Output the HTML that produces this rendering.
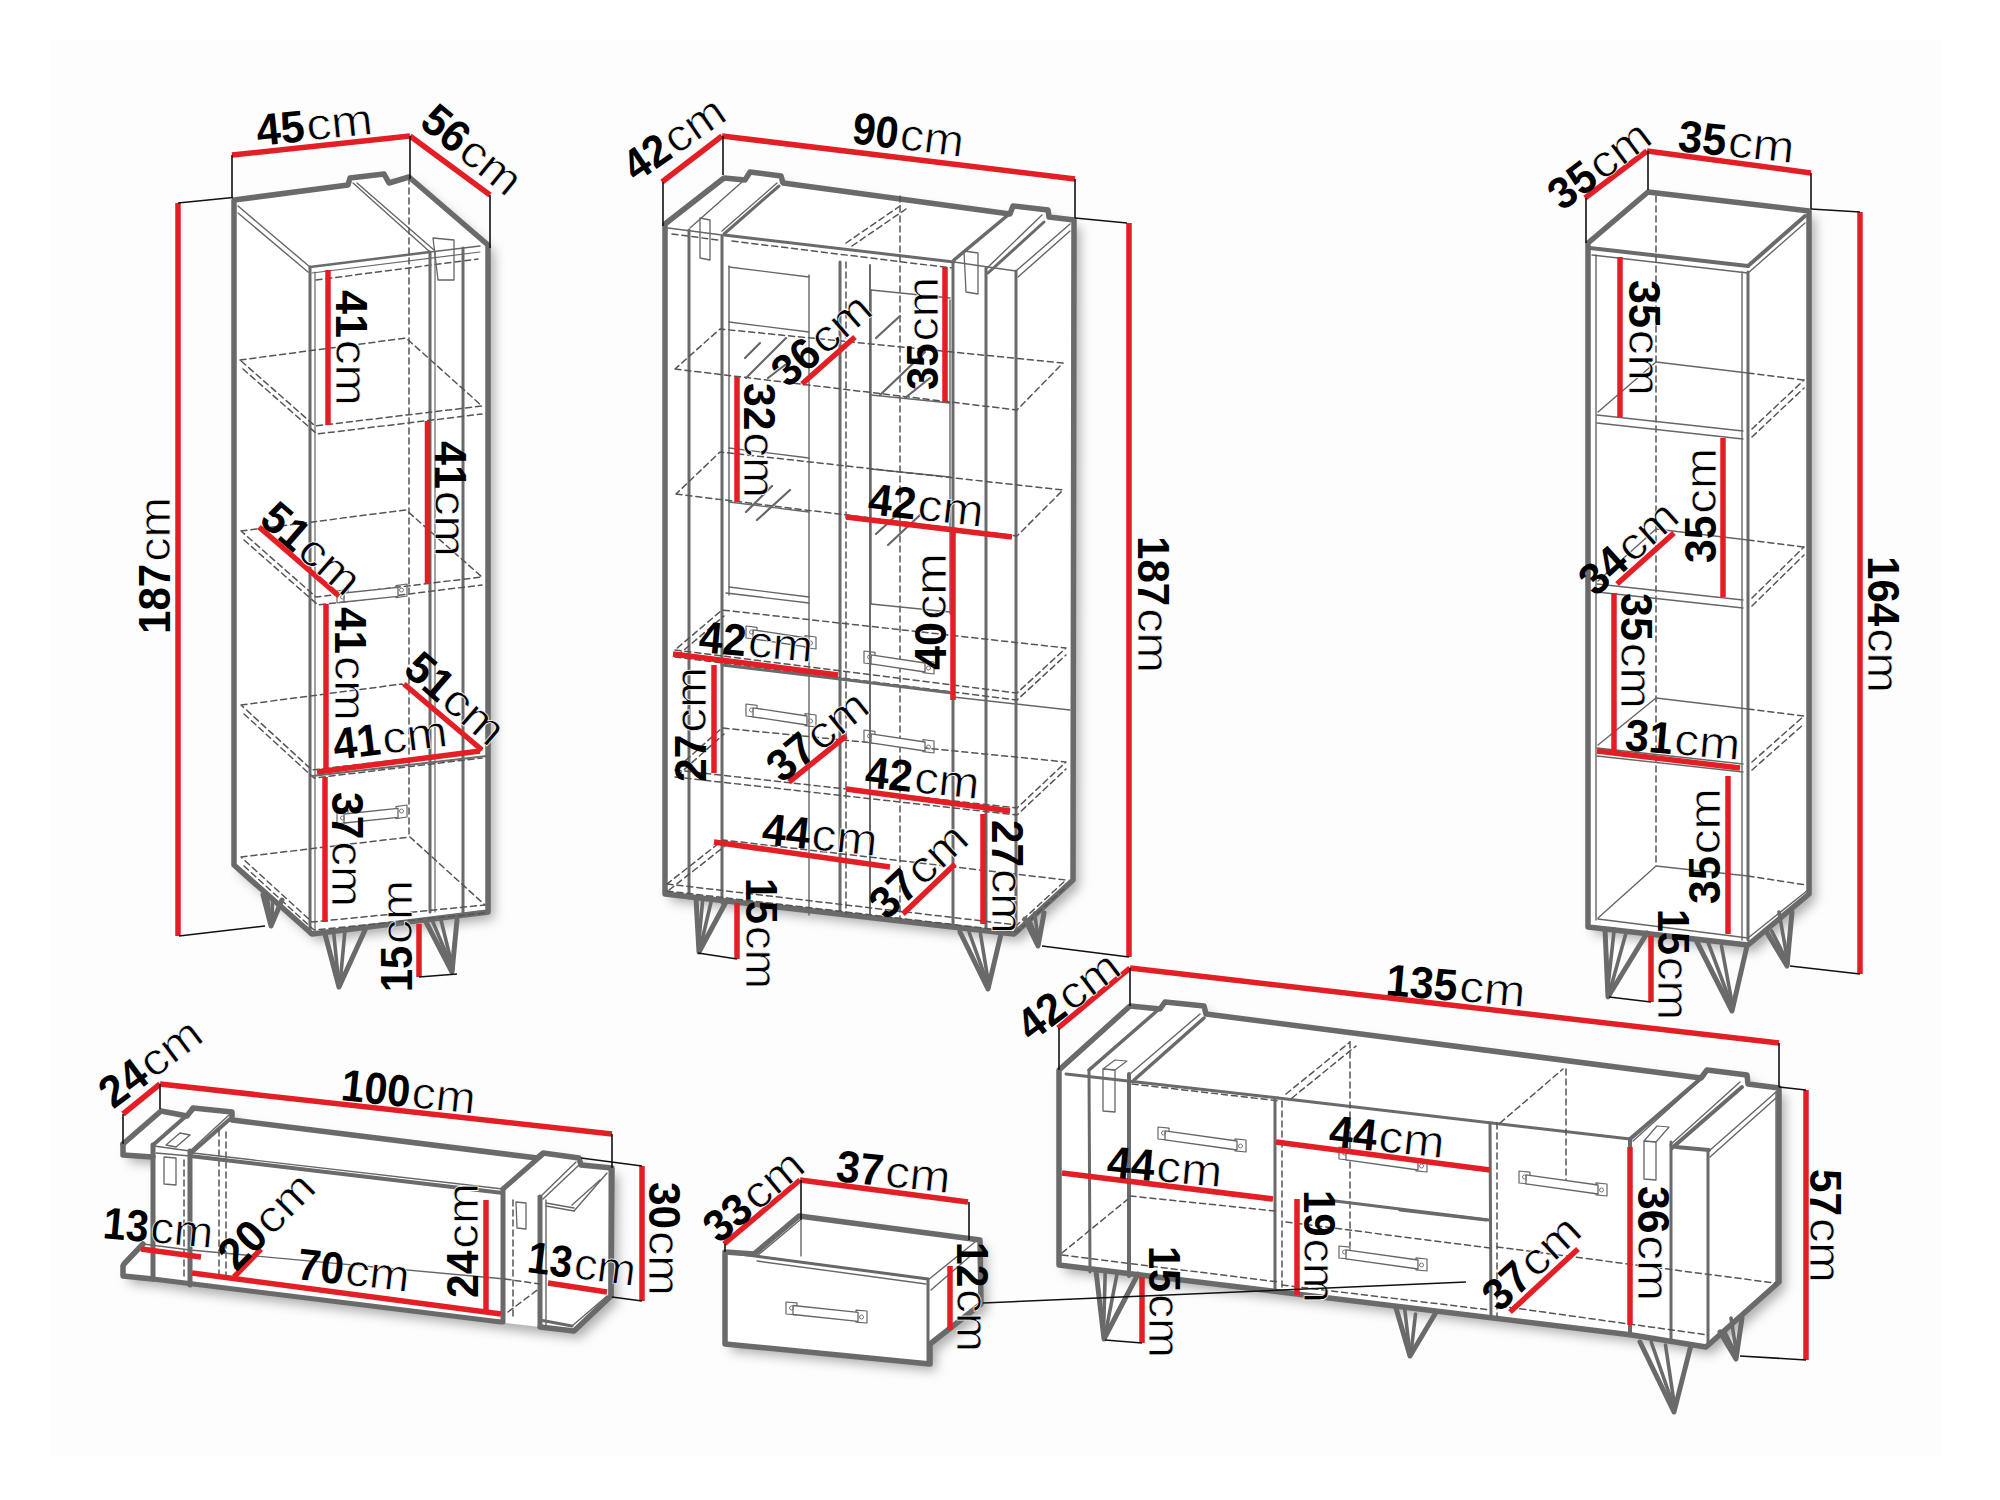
<!DOCTYPE html>
<html><head><meta charset="utf-8"><style>
html,body{margin:0;padding:0;background:#fff;}
svg{display:block;}
text{font-family:"Liberation Sans",sans-serif;fill:#000;}
</style></head><body>
<svg width="2000" height="1500" viewBox="0 0 2000 1500">
<defs><filter id="sh" x="-20%" y="-20%" width="140%" height="140%"><feGaussianBlur stdDeviation="6"/></filter></defs>
<rect width="2000" height="1500" fill="#fff"/>
<rect x="50" y="40" width="1891" height="1416" fill="#fdfdfd"/>
<polygon points="234,200 348,185 350,178 384,174 389,183 409,177 488,245 488,912 312,934 234,865" fill="#000" fill-opacity="0.32" filter="url(#sh)" transform="translate(6,7)"/>
<polygon points="234,200 348,185 350,178 384,174 389,183 409,177 488,245 488,912 312,934 234,865" fill="#fff"/>
<polygon points="234,200 348,185 350,178 384,174 389,183 409,177 488,245 488,912 312,934 234,865" fill="none" stroke="#6a6a6a" stroke-width="5.5" stroke-linejoin="round" stroke-linecap="round"/>
<line x1="238" y1="206" x2="310" y2="267" stroke="#666" stroke-width="1.4" stroke-linecap="round"/>
<line x1="238" y1="213" x2="308" y2="272" stroke="#666" stroke-width="1.4" stroke-linecap="round"/>
<line x1="353" y1="183" x2="430" y2="252" stroke="#666" stroke-width="1.4" stroke-linecap="round"/>
<line x1="357" y1="183" x2="434" y2="250" stroke="#666" stroke-width="1.4" stroke-linecap="round"/>
<line x1="310" y1="267" x2="430" y2="252" stroke="#6a6a6a" stroke-width="2.5" stroke-linecap="round"/>
<line x1="430" y1="252" x2="480" y2="246" stroke="#666" stroke-width="1.4" stroke-linecap="round"/>
<line x1="312" y1="273" x2="480" y2="252" stroke="#666" stroke-width="1.2" stroke-linecap="round"/>
<polyline points="316,280 478,259" fill="none" stroke="#555" stroke-width="1.5" stroke-linejoin="round" stroke-linecap="round" stroke-dasharray="6,4"/>
<line x1="310" y1="267" x2="310" y2="934" stroke="#6a6a6a" stroke-width="3" stroke-linecap="round"/>
<line x1="315" y1="272" x2="315" y2="930" stroke="#666" stroke-width="1.2" stroke-linecap="round"/>
<line x1="430" y1="252" x2="430" y2="912" stroke="#6a6a6a" stroke-width="3" stroke-linecap="round"/>
<line x1="435" y1="252" x2="435" y2="912" stroke="#666" stroke-width="1.2" stroke-linecap="round"/>
<line x1="463" y1="248" x2="463" y2="912" stroke="#6a6a6a" stroke-width="3" stroke-linecap="round"/>
<polyline points="409,178 409,837" fill="none" stroke="#555" stroke-width="1.5" stroke-linejoin="round" stroke-linecap="round" stroke-dasharray="6,4"/>
<polyline points="240,360 406,338 482,406 315,426 240,360" fill="none" stroke="#555" stroke-width="1.5" stroke-linejoin="round" stroke-linecap="round" stroke-dasharray="6,4"/>
<polyline points="243,369 317,434 482,414" fill="none" stroke="#555" stroke-width="1.5" stroke-linejoin="round" stroke-linecap="round" stroke-dasharray="6,4"/>
<polyline points="241,531 406,510 482,577 316,597 241,531" fill="none" stroke="#555" stroke-width="1.5" stroke-linejoin="round" stroke-linecap="round" stroke-dasharray="6,4"/>
<polyline points="244,540 318,605 482,585" fill="none" stroke="#555" stroke-width="1.5" stroke-linejoin="round" stroke-linecap="round" stroke-dasharray="6,4"/>
<polyline points="241,705 402,684 482,750 312,770 241,705" fill="none" stroke="#555" stroke-width="1.5" stroke-linejoin="round" stroke-linecap="round" stroke-dasharray="6,4"/>
<polyline points="244,714 314,778 482,758" fill="none" stroke="#555" stroke-width="1.5" stroke-linejoin="round" stroke-linecap="round" stroke-dasharray="6,4"/>
<polyline points="241,857 410,837 485,905 312,922 241,857" fill="none" stroke="#555" stroke-width="1.5" stroke-linejoin="round" stroke-linecap="round" stroke-dasharray="6,4"/>
<polyline points="244,866 314,930 485,913" fill="none" stroke="#555" stroke-width="1.5" stroke-linejoin="round" stroke-linecap="round" stroke-dasharray="6,4"/>
<line x1="312" y1="776" x2="487" y2="756" stroke="#6a6a6a" stroke-width="2" stroke-linecap="round"/>
<polygon points="433,238 454,240 454,280 438,280" fill="none" stroke="#666" stroke-width="1.3" stroke-linejoin="round" stroke-linecap="round"/>
<polygon points="337,812.0 348,810.4 348,822.4 337,824.0" fill="none" stroke="#666" stroke-width="1.2" stroke-linejoin="round" stroke-linecap="round"/>
<polygon points="396,806.6 407,805.0 407,817.0 396,818.6" fill="none" stroke="#666" stroke-width="1.2" stroke-linejoin="round" stroke-linecap="round"/>
<polygon points="344,814.0 398,808.3 398,817.3 344,823.0" fill="#fff" stroke="#666" stroke-width="1.3" stroke-linejoin="round" stroke-linecap="round"/>
<circle cx="342.5" cy="818" r="2" fill="none" stroke="#777" stroke-width="1"/>
<circle cx="401.5" cy="811" r="2" fill="none" stroke="#777" stroke-width="1"/>
<polygon points="337,591.0 348,589.4 348,601.4 337,603.0" fill="none" stroke="#666" stroke-width="1.2" stroke-linejoin="round" stroke-linecap="round"/>
<polygon points="396,585.6 407,584.0 407,596.0 396,597.6" fill="none" stroke="#666" stroke-width="1.2" stroke-linejoin="round" stroke-linecap="round"/>
<polygon points="344,593.0 398,587.3 398,596.3 344,602.0" fill="#fff" stroke="#666" stroke-width="1.3" stroke-linejoin="round" stroke-linecap="round"/>
<circle cx="342.5" cy="597" r="2" fill="none" stroke="#777" stroke-width="1"/>
<circle cx="401.5" cy="590" r="2" fill="none" stroke="#777" stroke-width="1"/>
<line x1="267.18" y1="895" x2="270.5" y2="920" stroke="#6a6a6a" stroke-width="3.6" stroke-linecap="round"/>
<line x1="272.5" y1="900" x2="272" y2="923" stroke="#6a6a6a" stroke-width="3.6" stroke-linecap="round"/>
<polyline points="263,895 271,926 282,900" fill="none" stroke="#6a6a6a" stroke-width="5" stroke-linejoin="round" stroke-linecap="round"/>
<line x1="333.8" y1="934" x2="338.5" y2="981" stroke="#6a6a6a" stroke-width="3.6" stroke-linecap="round"/>
<line x1="345.0" y1="930" x2="340" y2="984" stroke="#6a6a6a" stroke-width="3.6" stroke-linecap="round"/>
<polyline points="325,934 339,987 365,930" fill="none" stroke="#6a6a6a" stroke-width="5" stroke-linejoin="round" stroke-linecap="round"/>
<line x1="432.04" y1="920" x2="451.5" y2="966" stroke="#6a6a6a" stroke-width="3.6" stroke-linecap="round"/>
<line x1="441.0" y1="920" x2="453" y2="969" stroke="#6a6a6a" stroke-width="3.6" stroke-linecap="round"/>
<polyline points="425,920 452,972 457,920" fill="none" stroke="#6a6a6a" stroke-width="5" stroke-linejoin="round" stroke-linecap="round"/>
<line x1="232" y1="155" x2="410" y2="136" stroke="#e31e25" stroke-width="5.5" stroke-linecap="butt"/>
<line x1="410" y1="136" x2="490" y2="195" stroke="#e31e25" stroke-width="5.5" stroke-linecap="butt"/>
<line x1="178" y1="203" x2="178" y2="936" stroke="#e31e25" stroke-width="5.5" stroke-linecap="butt"/>
<line x1="328" y1="270" x2="328" y2="425" stroke="#e31e25" stroke-width="5.5" stroke-linecap="butt"/>
<line x1="427.5" y1="421" x2="427.5" y2="584" stroke="#e31e25" stroke-width="5.5" stroke-linecap="butt"/>
<line x1="259" y1="527" x2="339" y2="596" stroke="#e31e25" stroke-width="5.5" stroke-linecap="butt"/>
<line x1="326" y1="604" x2="326" y2="770" stroke="#e31e25" stroke-width="5.5" stroke-linecap="butt"/>
<line x1="404" y1="684" x2="482" y2="750" stroke="#e31e25" stroke-width="5.5" stroke-linecap="butt"/>
<line x1="317" y1="772" x2="480" y2="751" stroke="#e31e25" stroke-width="5.5" stroke-linecap="butt"/>
<line x1="325" y1="777" x2="325" y2="922" stroke="#e31e25" stroke-width="5.5" stroke-linecap="butt"/>
<line x1="419" y1="924" x2="419" y2="977" stroke="#e31e25" stroke-width="5.5" stroke-linecap="butt"/>
<line x1="178" y1="203" x2="233" y2="197.5" stroke="#111" stroke-width="1.6" stroke-linecap="butt"/>
<line x1="232" y1="155" x2="232" y2="198" stroke="#111" stroke-width="1.6" stroke-linecap="butt"/>
<line x1="410" y1="136" x2="410" y2="179" stroke="#111" stroke-width="1.6" stroke-linecap="butt"/>
<line x1="490" y1="195" x2="490" y2="248" stroke="#111" stroke-width="1.6" stroke-linecap="butt"/>
<line x1="179" y1="936" x2="265" y2="926" stroke="#111" stroke-width="1.6" stroke-linecap="butt"/>
<line x1="419" y1="977" x2="457" y2="974" stroke="#111" stroke-width="1.6" stroke-linecap="butt"/>
<g transform="translate(258.0,146.0) rotate(-5.91)"><text x="0" y="0" font-size="44.7" font-weight="bold" textLength="48.1" lengthAdjust="spacingAndGlyphs">45</text><text x="50.0" y="0" font-size="44.7" textLength="66.6" lengthAdjust="spacingAndGlyphs" stroke="#fff" stroke-width="0.7">cm</text></g>
<g transform="translate(418.0,125.0) rotate(39.36)"><text x="0" y="0" font-size="44.7" font-weight="bold" textLength="47.5" lengthAdjust="spacingAndGlyphs">56</text><text x="49.4" y="0" font-size="44.7" textLength="65.7" lengthAdjust="spacingAndGlyphs" stroke="#fff" stroke-width="0.7">cm</text></g>
<g transform="translate(170.0,634.0) rotate(-90.00)"><text x="0" y="0" font-size="44.7" font-weight="bold" textLength="70.2" lengthAdjust="spacingAndGlyphs">187</text><text x="72.2" y="0" font-size="44.7" textLength="64.9" lengthAdjust="spacingAndGlyphs" stroke="#fff" stroke-width="0.7">cm</text></g>
<g transform="translate(336.0,290.0) rotate(90.00)"><text x="0" y="0" font-size="44.7" font-weight="bold" textLength="47.8" lengthAdjust="spacingAndGlyphs">41</text><text x="49.7" y="0" font-size="44.7" textLength="66.2" lengthAdjust="spacingAndGlyphs" stroke="#fff" stroke-width="0.7">cm</text></g>
<g transform="translate(435.0,441.0) rotate(90.00)"><text x="0" y="0" font-size="44.7" font-weight="bold" textLength="47.8" lengthAdjust="spacingAndGlyphs">41</text><text x="49.7" y="0" font-size="44.7" textLength="66.2" lengthAdjust="spacingAndGlyphs" stroke="#fff" stroke-width="0.7">cm</text></g>
<g transform="translate(335.0,607.0) rotate(90.00)"><text x="0" y="0" font-size="44.7" font-weight="bold" textLength="47.0" lengthAdjust="spacingAndGlyphs">41</text><text x="48.9" y="0" font-size="44.7" textLength="65.1" lengthAdjust="spacingAndGlyphs" stroke="#fff" stroke-width="0.7">cm</text></g>
<g transform="translate(332.0,792.0) rotate(90.00)"><text x="0" y="0" font-size="44.7" font-weight="bold" textLength="47.4" lengthAdjust="spacingAndGlyphs">37</text><text x="49.3" y="0" font-size="44.7" textLength="65.7" lengthAdjust="spacingAndGlyphs" stroke="#fff" stroke-width="0.7">cm</text></g>
<g transform="translate(412.0,992.0) rotate(-90.00)"><text x="0" y="0" font-size="44.7" font-weight="bold" textLength="46.2" lengthAdjust="spacingAndGlyphs">15</text><text x="48.1" y="0" font-size="44.7" textLength="64.0" lengthAdjust="spacingAndGlyphs" stroke="#fff" stroke-width="0.7">cm</text></g>
<g transform="translate(257.7,522.0) rotate(41.00)"><text x="0" y="0" font-size="44.7" font-weight="bold" textLength="47.8" lengthAdjust="spacingAndGlyphs">51</text><text x="49.7" y="0" font-size="44.7" textLength="66.2" lengthAdjust="spacingAndGlyphs" stroke="#fff" stroke-width="0.7">cm</text></g>
<g transform="translate(401.7,672.0) rotate(41.00)"><text x="0" y="0" font-size="44.7" font-weight="bold" textLength="47.8" lengthAdjust="spacingAndGlyphs">51</text><text x="49.7" y="0" font-size="44.7" textLength="66.2" lengthAdjust="spacingAndGlyphs" stroke="#fff" stroke-width="0.7">cm</text></g>
<g transform="translate(335.0,760.0) rotate(-7.00)"><text x="0" y="0" font-size="44.7" font-weight="bold" textLength="47.4" lengthAdjust="spacingAndGlyphs">41</text><text x="49.3" y="0" font-size="44.7" textLength="65.6" lengthAdjust="spacingAndGlyphs" stroke="#fff" stroke-width="0.7">cm</text></g>
<polygon points="665,224 724,178 745,180 750,172 781,176 783,183 1010,214 1013,206 1048,210 1049,217 1074,220 1073,880 1014,934 665,894" fill="#000" fill-opacity="0.32" filter="url(#sh)" transform="translate(6,7)"/>
<polygon points="665,224 724,178 745,180 750,172 781,176 783,183 1010,214 1013,206 1048,210 1049,217 1074,220 1073,880 1014,934 665,894" fill="#fff"/>
<polygon points="665,224 724,178 745,180 750,172 781,176 783,183 1010,214 1013,206 1048,210 1049,217 1074,220 1073,880 1014,934 665,894" fill="none" stroke="#6a6a6a" stroke-width="5.5" stroke-linejoin="round" stroke-linecap="round"/>
<line x1="690" y1="228" x2="742" y2="182" stroke="#666" stroke-width="1.4" stroke-linecap="round"/>
<line x1="722" y1="231" x2="777" y2="183" stroke="#666" stroke-width="1.4" stroke-linecap="round"/>
<line x1="724" y1="234" x2="779" y2="186" stroke="#6a6a6a" stroke-width="3" stroke-linecap="round"/>
<line x1="668" y1="228" x2="722" y2="235" stroke="#666" stroke-width="1.4" stroke-linecap="round"/>
<line x1="724" y1="235" x2="954" y2="262" stroke="#6a6a6a" stroke-width="3" stroke-linecap="round"/>
<line x1="954" y1="262" x2="988" y2="267" stroke="#666" stroke-width="1.4" stroke-linecap="round"/>
<line x1="988" y1="267" x2="1016" y2="271" stroke="#666" stroke-width="1.4" stroke-linecap="round"/>
<polyline points="732,241 952,268" fill="none" stroke="#555" stroke-width="1.5" stroke-linejoin="round" stroke-linecap="round" stroke-dasharray="6,4"/>
<polyline points="672,234 718,240" fill="none" stroke="#555" stroke-width="1.5" stroke-linejoin="round" stroke-linecap="round" stroke-dasharray="6,4"/>
<line x1="954" y1="260" x2="1008" y2="215" stroke="#6a6a6a" stroke-width="3.5" stroke-linecap="round"/>
<line x1="986" y1="269" x2="1042" y2="215" stroke="#666" stroke-width="1.4" stroke-linecap="round"/>
<line x1="988" y1="273" x2="1044" y2="222" stroke="#6a6a6a" stroke-width="3" stroke-linecap="round"/>
<line x1="1016" y1="271" x2="1070" y2="224" stroke="#666" stroke-width="1.4" stroke-linecap="round"/>
<line x1="1018" y1="277" x2="1070" y2="231" stroke="#666" stroke-width="1.4" stroke-linecap="round"/>
<line x1="689" y1="230" x2="689" y2="898" stroke="#6a6a6a" stroke-width="3" stroke-linecap="round"/>
<line x1="722" y1="236" x2="722" y2="903" stroke="#6a6a6a" stroke-width="3" stroke-linecap="round"/>
<line x1="840" y1="262" x2="840" y2="914" stroke="#6a6a6a" stroke-width="3" stroke-linecap="round"/>
<polyline points="846,262 846,914" fill="none" stroke="#555" stroke-width="1.5" stroke-linejoin="round" stroke-linecap="round" stroke-dasharray="6,4"/>
<line x1="870" y1="265" x2="870" y2="918" stroke="#6a6a6a" stroke-width="2" stroke-linecap="round"/>
<polyline points="900,196 900,920" fill="none" stroke="#555" stroke-width="1.5" stroke-linejoin="round" stroke-linecap="round" stroke-dasharray="6,4"/>
<polyline points="846,243 900,206" fill="none" stroke="#555" stroke-width="1.5" stroke-linejoin="round" stroke-linecap="round" stroke-dasharray="6,4"/>
<polyline points="852,246 906,209" fill="none" stroke="#555" stroke-width="1.5" stroke-linejoin="round" stroke-linecap="round" stroke-dasharray="6,4"/>
<line x1="953" y1="261" x2="953" y2="926" stroke="#6a6a6a" stroke-width="3" stroke-linecap="round"/>
<line x1="986" y1="268" x2="986" y2="929" stroke="#6a6a6a" stroke-width="3" stroke-linecap="round"/>
<line x1="1016" y1="271" x2="1016" y2="932" stroke="#6a6a6a" stroke-width="3" stroke-linecap="round"/>
<line x1="729" y1="266" x2="729" y2="595" stroke="#666" stroke-width="1.4" stroke-linecap="round"/>
<line x1="809" y1="275" x2="809" y2="915" stroke="#666" stroke-width="1.4" stroke-linecap="round"/>
<line x1="729" y1="267" x2="809" y2="277" stroke="#666" stroke-width="1.4" stroke-linecap="round"/>
<line x1="729" y1="322" x2="809" y2="332" stroke="#666" stroke-width="1.4" stroke-linecap="round"/>
<line x1="729" y1="448" x2="809" y2="458" stroke="#666" stroke-width="1.4" stroke-linecap="round"/>
<line x1="729" y1="502" x2="809" y2="512" stroke="#666" stroke-width="1.4" stroke-linecap="round"/>
<line x1="729" y1="587" x2="809" y2="597" stroke="#666" stroke-width="1.4" stroke-linecap="round"/>
<line x1="726" y1="593" x2="809" y2="603" stroke="#666" stroke-width="1.4" stroke-linecap="round"/>
<line x1="871" y1="290" x2="871" y2="604" stroke="#666" stroke-width="1.4" stroke-linecap="round"/>
<line x1="950" y1="300" x2="950" y2="614" stroke="#666" stroke-width="1.4" stroke-linecap="round"/>
<line x1="871" y1="290" x2="950" y2="298" stroke="#666" stroke-width="1.4" stroke-linecap="round"/>
<line x1="871" y1="395" x2="950" y2="403" stroke="#666" stroke-width="1.4" stroke-linecap="round"/>
<line x1="871" y1="469" x2="950" y2="477" stroke="#666" stroke-width="1.4" stroke-linecap="round"/>
<line x1="871" y1="604" x2="950" y2="612" stroke="#666" stroke-width="1.4" stroke-linecap="round"/>
<polyline points="675,369 1017,410 1063,363 720,329 675,369" fill="none" stroke="#555" stroke-width="1.5" stroke-linejoin="round" stroke-linecap="round" stroke-dasharray="6,4"/>
<polyline points="676,494 1017,536 1063,490 720,452 676,494" fill="none" stroke="#555" stroke-width="1.5" stroke-linejoin="round" stroke-linecap="round" stroke-dasharray="6,4"/>
<polyline points="675,650 1017,693 1066,648 722,610 675,650" fill="none" stroke="#555" stroke-width="1.5" stroke-linejoin="round" stroke-linecap="round" stroke-dasharray="6,4"/>
<polyline points="675,657 1017,700 1066,655" fill="none" stroke="#555" stroke-width="1.5" stroke-linejoin="round" stroke-linecap="round" stroke-dasharray="6,4"/>
<polyline points="677,656 724,616" fill="none" stroke="#555" stroke-width="1.5" stroke-linejoin="round" stroke-linecap="round" stroke-dasharray="6,4"/>
<polyline points="675,770 1017,808 1066,762 722,728 675,770" fill="none" stroke="#555" stroke-width="1.5" stroke-linejoin="round" stroke-linecap="round" stroke-dasharray="6,4"/>
<polyline points="675,777 1017,815 1066,769" fill="none" stroke="#555" stroke-width="1.5" stroke-linejoin="round" stroke-linecap="round" stroke-dasharray="6,4"/>
<polyline points="677,776 724,734" fill="none" stroke="#555" stroke-width="1.5" stroke-linejoin="round" stroke-linecap="round" stroke-dasharray="6,4"/>
<polyline points="667,884 1017,925 1066,880 723,840 667,884" fill="none" stroke="#555" stroke-width="1.5" stroke-linejoin="round" stroke-linecap="round" stroke-dasharray="6,4"/>
<polyline points="667,891 1017,932 1066,887" fill="none" stroke="#555" stroke-width="1.5" stroke-linejoin="round" stroke-linecap="round" stroke-dasharray="6,4"/>
<polyline points="669,890 725,846" fill="none" stroke="#555" stroke-width="1.5" stroke-linejoin="round" stroke-linecap="round" stroke-dasharray="6,4"/>
<line x1="745" y1="358" x2="760" y2="343" stroke="#666" stroke-width="2.2" stroke-linecap="round"/>
<line x1="746" y1="378" x2="786" y2="338" stroke="#666" stroke-width="2.2" stroke-linecap="round"/>
<line x1="768" y1="378" x2="785" y2="365" stroke="#666" stroke-width="2.2" stroke-linecap="round"/>
<line x1="746" y1="512" x2="772" y2="486" stroke="#666" stroke-width="2.2" stroke-linecap="round"/>
<line x1="757" y1="520" x2="790" y2="490" stroke="#666" stroke-width="2.2" stroke-linecap="round"/>
<line x1="876" y1="338" x2="900" y2="316" stroke="#666" stroke-width="2.2" stroke-linecap="round"/>
<line x1="880" y1="395" x2="925" y2="352" stroke="#666" stroke-width="2.2" stroke-linecap="round"/>
<line x1="905" y1="398" x2="930" y2="378" stroke="#666" stroke-width="2.2" stroke-linecap="round"/>
<line x1="876" y1="534" x2="900" y2="512" stroke="#666" stroke-width="2.2" stroke-linecap="round"/>
<line x1="888" y1="545" x2="920" y2="515" stroke="#666" stroke-width="2.2" stroke-linecap="round"/>
<line x1="722" y1="665" x2="840" y2="679" stroke="#6a6a6a" stroke-width="3" stroke-linecap="round"/>
<line x1="840" y1="679" x2="952" y2="693" stroke="#6a6a6a" stroke-width="3" stroke-linecap="round"/>
<line x1="953" y1="697" x2="1070" y2="710" stroke="#666" stroke-width="1.4" stroke-linecap="round"/>
<polygon points="746,704.0 757,705.3 757,717.3 746,716.0" fill="none" stroke="#666" stroke-width="1.2" stroke-linejoin="round" stroke-linecap="round"/>
<polygon points="805,713.7 816,715.0 816,727.0 805,725.7" fill="none" stroke="#666" stroke-width="1.2" stroke-linejoin="round" stroke-linecap="round"/>
<polygon points="753,707.8 807,716.0 807,725.0 753,716.8" fill="#fff" stroke="#666" stroke-width="1.3" stroke-linejoin="round" stroke-linecap="round"/>
<circle cx="751.5" cy="710" r="2" fill="none" stroke="#777" stroke-width="1"/>
<circle cx="810.5" cy="721" r="2" fill="none" stroke="#777" stroke-width="1"/>
<polygon points="864,730.0 875,731.3 875,743.3 864,742.0" fill="none" stroke="#666" stroke-width="1.2" stroke-linejoin="round" stroke-linecap="round"/>
<polygon points="923,739.7 934,741.0 934,753.0 923,751.7" fill="none" stroke="#666" stroke-width="1.2" stroke-linejoin="round" stroke-linecap="round"/>
<polygon points="871,733.8 925,742.0 925,751.0 871,742.8" fill="#fff" stroke="#666" stroke-width="1.3" stroke-linejoin="round" stroke-linecap="round"/>
<circle cx="869.5" cy="736" r="2" fill="none" stroke="#777" stroke-width="1"/>
<circle cx="928.5" cy="747" r="2" fill="none" stroke="#777" stroke-width="1"/>
<polygon points="746,626.0 757,627.3 757,639.3 746,638.0" fill="none" stroke="#666" stroke-width="1.2" stroke-linejoin="round" stroke-linecap="round"/>
<polygon points="805,635.7 816,637.0 816,649.0 805,647.7" fill="none" stroke="#666" stroke-width="1.2" stroke-linejoin="round" stroke-linecap="round"/>
<polygon points="753,629.8 807,638.0 807,647.0 753,638.8" fill="#fff" stroke="#666" stroke-width="1.3" stroke-linejoin="round" stroke-linecap="round"/>
<circle cx="751.5" cy="632" r="2" fill="none" stroke="#777" stroke-width="1"/>
<circle cx="810.5" cy="643" r="2" fill="none" stroke="#777" stroke-width="1"/>
<polygon points="864,651.0 875,652.3 875,664.3 864,663.0" fill="none" stroke="#666" stroke-width="1.2" stroke-linejoin="round" stroke-linecap="round"/>
<polygon points="923,660.7 934,662.0 934,674.0 923,672.7" fill="none" stroke="#666" stroke-width="1.2" stroke-linejoin="round" stroke-linecap="round"/>
<polygon points="871,654.8 925,663.0 925,672.0 871,663.8" fill="#fff" stroke="#666" stroke-width="1.3" stroke-linejoin="round" stroke-linecap="round"/>
<circle cx="869.5" cy="657" r="2" fill="none" stroke="#777" stroke-width="1"/>
<circle cx="928.5" cy="668" r="2" fill="none" stroke="#777" stroke-width="1"/>
<polygon points="700,218 710,220 710,260 700,258" fill="none" stroke="#666" stroke-width="1.3" stroke-linejoin="round" stroke-linecap="round"/>
<polygon points="964,251 978,253 978,294 966,292" fill="none" stroke="#666" stroke-width="1.3" stroke-linejoin="round" stroke-linecap="round"/>
<line x1="702.82" y1="898" x2="698.5" y2="946" stroke="#6a6a6a" stroke-width="3.6" stroke-linecap="round"/>
<line x1="711.5" y1="900" x2="700" y2="949" stroke="#6a6a6a" stroke-width="3.6" stroke-linecap="round"/>
<polyline points="696,898 699,952 727,900" fill="none" stroke="#6a6a6a" stroke-width="5" stroke-linejoin="round" stroke-linecap="round"/>
<line x1="969.02" y1="932" x2="987.5" y2="983" stroke="#6a6a6a" stroke-width="3.6" stroke-linecap="round"/>
<line x1="980.5" y1="934" x2="989" y2="986" stroke="#6a6a6a" stroke-width="3.6" stroke-linecap="round"/>
<polyline points="960,932 988,989 1001,934" fill="none" stroke="#6a6a6a" stroke-width="5" stroke-linejoin="round" stroke-linecap="round"/>
<line x1="1029.18" y1="919" x2="1037.5" y2="940" stroke="#6a6a6a" stroke-width="3.6" stroke-linecap="round"/>
<line x1="1034.5" y1="913" x2="1039" y2="943" stroke="#6a6a6a" stroke-width="3.6" stroke-linecap="round"/>
<polyline points="1025,919 1038,946 1044,913" fill="none" stroke="#6a6a6a" stroke-width="5" stroke-linejoin="round" stroke-linecap="round"/>
<line x1="662" y1="182" x2="722" y2="136" stroke="#e31e25" stroke-width="5.5" stroke-linecap="butt"/>
<line x1="722" y1="136" x2="1075" y2="179" stroke="#e31e25" stroke-width="5.5" stroke-linecap="butt"/>
<line x1="1129" y1="223" x2="1129" y2="957" stroke="#e31e25" stroke-width="5.5" stroke-linecap="butt"/>
<line x1="737" y1="377" x2="737" y2="502" stroke="#e31e25" stroke-width="5.5" stroke-linecap="butt"/>
<line x1="802" y1="384" x2="855" y2="337" stroke="#e31e25" stroke-width="5.5" stroke-linecap="butt"/>
<line x1="945" y1="267" x2="945" y2="402" stroke="#e31e25" stroke-width="5.5" stroke-linecap="butt"/>
<line x1="846" y1="517" x2="1012" y2="537" stroke="#e31e25" stroke-width="5.5" stroke-linecap="butt"/>
<line x1="953" y1="531" x2="953" y2="700" stroke="#e31e25" stroke-width="5.5" stroke-linecap="butt"/>
<line x1="673" y1="654" x2="838" y2="675" stroke="#e31e25" stroke-width="5.5" stroke-linecap="butt"/>
<line x1="714" y1="665" x2="714" y2="773" stroke="#e31e25" stroke-width="5.5" stroke-linecap="butt"/>
<line x1="789" y1="782" x2="846" y2="736" stroke="#e31e25" stroke-width="5.5" stroke-linecap="butt"/>
<line x1="846" y1="789" x2="1010" y2="811" stroke="#e31e25" stroke-width="5.5" stroke-linecap="butt"/>
<line x1="714" y1="842" x2="890" y2="867" stroke="#e31e25" stroke-width="5.5" stroke-linecap="butt"/>
<line x1="737" y1="903" x2="737" y2="959" stroke="#e31e25" stroke-width="5.5" stroke-linecap="butt"/>
<line x1="903" y1="914" x2="955" y2="864" stroke="#e31e25" stroke-width="5.5" stroke-linecap="butt"/>
<line x1="983" y1="814" x2="983" y2="924" stroke="#e31e25" stroke-width="5.5" stroke-linecap="butt"/>
<line x1="663" y1="182" x2="663" y2="226" stroke="#111" stroke-width="1.6" stroke-linecap="butt"/>
<line x1="723" y1="136" x2="723" y2="175" stroke="#111" stroke-width="1.6" stroke-linecap="butt"/>
<line x1="1075" y1="179" x2="1075" y2="218" stroke="#111" stroke-width="1.6" stroke-linecap="butt"/>
<line x1="1075" y1="218" x2="1127" y2="223" stroke="#111" stroke-width="1.6" stroke-linecap="butt"/>
<line x1="698" y1="953" x2="737" y2="959" stroke="#111" stroke-width="1.6" stroke-linecap="butt"/>
<line x1="1042" y1="946" x2="1129" y2="957" stroke="#111" stroke-width="1.6" stroke-linecap="butt"/>
<g transform="translate(636.0,183.0) rotate(-34.53)"><text x="0" y="0" font-size="44.7" font-weight="bold" textLength="46.5" lengthAdjust="spacingAndGlyphs">42</text><text x="48.5" y="0" font-size="44.7" textLength="64.5" lengthAdjust="spacingAndGlyphs" stroke="#fff" stroke-width="0.7">cm</text></g>
<g transform="translate(851.0,143.0) rotate(7.19)"><text x="0" y="0" font-size="44.7" font-weight="bold" textLength="46.1" lengthAdjust="spacingAndGlyphs">90</text><text x="48.0" y="0" font-size="44.7" textLength="63.9" lengthAdjust="spacingAndGlyphs" stroke="#fff" stroke-width="0.7">cm</text></g>
<g transform="translate(1138.0,536.0) rotate(90.00)"><text x="0" y="0" font-size="44.7" font-weight="bold" textLength="70.2" lengthAdjust="spacingAndGlyphs">187</text><text x="72.2" y="0" font-size="44.7" textLength="64.9" lengthAdjust="spacingAndGlyphs" stroke="#fff" stroke-width="0.7">cm</text></g>
<g transform="translate(744.0,383.0) rotate(90.00)"><text x="0" y="0" font-size="44.7" font-weight="bold" textLength="47.4" lengthAdjust="spacingAndGlyphs">32</text><text x="49.3" y="0" font-size="44.7" textLength="65.7" lengthAdjust="spacingAndGlyphs" stroke="#fff" stroke-width="0.7">cm</text></g>
<g transform="translate(787.7,389.1) rotate(-41.00)"><text x="0" y="0" font-size="44.7" font-weight="bold" textLength="47.8" lengthAdjust="spacingAndGlyphs">36</text><text x="49.7" y="0" font-size="44.7" textLength="66.2" lengthAdjust="spacingAndGlyphs" stroke="#fff" stroke-width="0.7">cm</text></g>
<g transform="translate(938.0,390.0) rotate(-90.00)"><text x="0" y="0" font-size="44.7" font-weight="bold" textLength="46.6" lengthAdjust="spacingAndGlyphs">35</text><text x="48.5" y="0" font-size="44.7" textLength="64.5" lengthAdjust="spacingAndGlyphs" stroke="#fff" stroke-width="0.7">cm</text></g>
<g transform="translate(867.0,514.0) rotate(6.45)"><text x="0" y="0" font-size="44.7" font-weight="bold" textLength="47.7" lengthAdjust="spacingAndGlyphs">42</text><text x="49.6" y="0" font-size="44.7" textLength="66.1" lengthAdjust="spacingAndGlyphs" stroke="#fff" stroke-width="0.7">cm</text></g>
<g transform="translate(946.0,670.0) rotate(-90.00)"><text x="0" y="0" font-size="44.7" font-weight="bold" textLength="48.2" lengthAdjust="spacingAndGlyphs">40</text><text x="50.2" y="0" font-size="44.7" textLength="66.8" lengthAdjust="spacingAndGlyphs" stroke="#fff" stroke-width="0.7">cm</text></g>
<g transform="translate(698.0,652.0) rotate(5.01)"><text x="0" y="0" font-size="44.7" font-weight="bold" textLength="47.2" lengthAdjust="spacingAndGlyphs">42</text><text x="49.1" y="0" font-size="44.7" textLength="65.3" lengthAdjust="spacingAndGlyphs" stroke="#fff" stroke-width="0.7">cm</text></g>
<g transform="translate(706.0,782.0) rotate(-90.00)"><text x="0" y="0" font-size="44.7" font-weight="bold" textLength="47.4" lengthAdjust="spacingAndGlyphs">27</text><text x="49.3" y="0" font-size="44.7" textLength="65.7" lengthAdjust="spacingAndGlyphs" stroke="#fff" stroke-width="0.7">cm</text></g>
<g transform="translate(782.0,783.9) rotate(-39.00)"><text x="0" y="0" font-size="44.7" font-weight="bold" textLength="47.8" lengthAdjust="spacingAndGlyphs">37</text><text x="49.7" y="0" font-size="44.7" textLength="66.2" lengthAdjust="spacingAndGlyphs" stroke="#fff" stroke-width="0.7">cm</text></g>
<g transform="translate(864.0,787.0) rotate(6.01)"><text x="0" y="0" font-size="44.7" font-weight="bold" textLength="47.3" lengthAdjust="spacingAndGlyphs">42</text><text x="49.2" y="0" font-size="44.7" textLength="65.5" lengthAdjust="spacingAndGlyphs" stroke="#fff" stroke-width="0.7">cm</text></g>
<g transform="translate(761.0,844.0) rotate(5.96)"><text x="0" y="0" font-size="44.7" font-weight="bold" textLength="47.7" lengthAdjust="spacingAndGlyphs">44</text><text x="49.6" y="0" font-size="44.7" textLength="66.0" lengthAdjust="spacingAndGlyphs" stroke="#fff" stroke-width="0.7">cm</text></g>
<g transform="translate(746.0,878.0) rotate(90.00)"><text x="0" y="0" font-size="44.7" font-weight="bold" textLength="45.8" lengthAdjust="spacingAndGlyphs">15</text><text x="47.7" y="0" font-size="44.7" textLength="63.4" lengthAdjust="spacingAndGlyphs" stroke="#fff" stroke-width="0.7">cm</text></g>
<g transform="translate(886.5,921.3) rotate(-43.00)"><text x="0" y="0" font-size="44.7" font-weight="bold" textLength="47.8" lengthAdjust="spacingAndGlyphs">37</text><text x="49.7" y="0" font-size="44.7" textLength="66.2" lengthAdjust="spacingAndGlyphs" stroke="#fff" stroke-width="0.7">cm</text></g>
<g transform="translate(992.0,820.0) rotate(90.00)"><text x="0" y="0" font-size="44.7" font-weight="bold" textLength="47.0" lengthAdjust="spacingAndGlyphs">27</text><text x="48.9" y="0" font-size="44.7" textLength="65.1" lengthAdjust="spacingAndGlyphs" stroke="#fff" stroke-width="0.7">cm</text></g>
<polygon points="1588,243 1648,192 1809,211 1809,894 1748,945 1588,927" fill="#000" fill-opacity="0.32" filter="url(#sh)" transform="translate(6,7)"/>
<polygon points="1588,243 1648,192 1809,211 1809,894 1748,945 1588,927" fill="#fff"/>
<polygon points="1588,243 1648,192 1809,211 1809,894 1748,945 1588,927" fill="none" stroke="#6a6a6a" stroke-width="5.5" stroke-linejoin="round" stroke-linecap="round"/>
<line x1="1590" y1="248" x2="1748" y2="266" stroke="#6a6a6a" stroke-width="4" stroke-linecap="round"/>
<line x1="1748" y1="266" x2="1805" y2="216" stroke="#6a6a6a" stroke-width="4" stroke-linecap="round"/>
<line x1="1592" y1="255" x2="1748" y2="273" stroke="#666" stroke-width="1.4" stroke-linecap="round"/>
<line x1="1748" y1="273" x2="1805" y2="223" stroke="#666" stroke-width="1.4" stroke-linecap="round"/>
<line x1="1596" y1="255" x2="1596" y2="920" stroke="#666" stroke-width="1.4" stroke-linecap="round"/>
<line x1="1742" y1="272" x2="1742" y2="940" stroke="#666" stroke-width="1.4" stroke-linecap="round"/>
<line x1="1748" y1="272" x2="1748" y2="940" stroke="#6a6a6a" stroke-width="3" stroke-linecap="round"/>
<polyline points="1656,196 1656,866" fill="none" stroke="#555" stroke-width="1.5" stroke-linejoin="round" stroke-linecap="round" stroke-dasharray="6,4"/>
<line x1="1656" y1="362" x2="1748" y2="373" stroke="#666" stroke-width="1.4" stroke-linecap="round"/>
<polyline points="1748,373 1804,380" fill="none" stroke="#555" stroke-width="1.5" stroke-linejoin="round" stroke-linecap="round" stroke-dasharray="6,4"/>
<line x1="1656" y1="362" x2="1598" y2="412" stroke="#666" stroke-width="1.4" stroke-linecap="round"/>
<line x1="1597" y1="415" x2="1743" y2="431" stroke="#666" stroke-width="1.4" stroke-linecap="round"/>
<line x1="1597" y1="423" x2="1743" y2="439" stroke="#666" stroke-width="1.4" stroke-linecap="round"/>
<polyline points="1752,429 1804,380" fill="none" stroke="#555" stroke-width="1.5" stroke-linejoin="round" stroke-linecap="round" stroke-dasharray="6,4"/>
<polyline points="1752,437 1804,388" fill="none" stroke="#555" stroke-width="1.5" stroke-linejoin="round" stroke-linecap="round" stroke-dasharray="6,4"/>
<line x1="1656" y1="529" x2="1748" y2="540" stroke="#666" stroke-width="1.4" stroke-linecap="round"/>
<polyline points="1748,540 1804,547" fill="none" stroke="#555" stroke-width="1.5" stroke-linejoin="round" stroke-linecap="round" stroke-dasharray="6,4"/>
<line x1="1656" y1="529" x2="1598" y2="581" stroke="#666" stroke-width="1.4" stroke-linecap="round"/>
<line x1="1597" y1="584" x2="1743" y2="600" stroke="#666" stroke-width="1.4" stroke-linecap="round"/>
<line x1="1597" y1="592" x2="1743" y2="608" stroke="#666" stroke-width="1.4" stroke-linecap="round"/>
<polyline points="1752,598 1804,547" fill="none" stroke="#555" stroke-width="1.5" stroke-linejoin="round" stroke-linecap="round" stroke-dasharray="6,4"/>
<polyline points="1752,606 1804,555" fill="none" stroke="#555" stroke-width="1.5" stroke-linejoin="round" stroke-linecap="round" stroke-dasharray="6,4"/>
<line x1="1656" y1="698" x2="1748" y2="709" stroke="#666" stroke-width="1.4" stroke-linecap="round"/>
<polyline points="1748,709 1804,716" fill="none" stroke="#555" stroke-width="1.5" stroke-linejoin="round" stroke-linecap="round" stroke-dasharray="6,4"/>
<line x1="1656" y1="698" x2="1598" y2="745" stroke="#666" stroke-width="1.4" stroke-linecap="round"/>
<line x1="1597" y1="748" x2="1743" y2="764" stroke="#666" stroke-width="1.4" stroke-linecap="round"/>
<line x1="1597" y1="756" x2="1743" y2="772" stroke="#666" stroke-width="1.4" stroke-linecap="round"/>
<polyline points="1752,762 1804,716" fill="none" stroke="#555" stroke-width="1.5" stroke-linejoin="round" stroke-linecap="round" stroke-dasharray="6,4"/>
<polyline points="1752,770 1804,724" fill="none" stroke="#555" stroke-width="1.5" stroke-linejoin="round" stroke-linecap="round" stroke-dasharray="6,4"/>
<line x1="1656" y1="866" x2="1748" y2="876" stroke="#666" stroke-width="1.4" stroke-linecap="round"/>
<polyline points="1748,876 1806,885" fill="none" stroke="#555" stroke-width="1.5" stroke-linejoin="round" stroke-linecap="round" stroke-dasharray="6,4"/>
<line x1="1656" y1="866" x2="1598" y2="918" stroke="#666" stroke-width="1.4" stroke-linecap="round"/>
<line x1="1598" y1="919" x2="1748" y2="938" stroke="#666" stroke-width="1.4" stroke-linecap="round"/>
<line x1="1748" y1="938" x2="1808" y2="890" stroke="#666" stroke-width="1.4" stroke-linecap="round"/>
<line x1="1614.24" y1="929" x2="1607.5" y2="991" stroke="#6a6a6a" stroke-width="3.6" stroke-linecap="round"/>
<line x1="1626.0" y1="933" x2="1609" y2="994" stroke="#6a6a6a" stroke-width="3.6" stroke-linecap="round"/>
<polyline points="1605,929 1608,997 1647,933" fill="none" stroke="#6a6a6a" stroke-width="5" stroke-linejoin="round" stroke-linecap="round"/>
<line x1="1707.22" y1="940" x2="1731.5" y2="1005" stroke="#6a6a6a" stroke-width="3.6" stroke-linecap="round"/>
<line x1="1721.5" y1="946" x2="1733" y2="1008" stroke="#6a6a6a" stroke-width="3.6" stroke-linecap="round"/>
<polyline points="1696,940 1732,1011 1747,946" fill="none" stroke="#6a6a6a" stroke-width="5" stroke-linejoin="round" stroke-linecap="round"/>
<line x1="1771.72" y1="931" x2="1786.5" y2="960" stroke="#6a6a6a" stroke-width="3.6" stroke-linecap="round"/>
<line x1="1779.0" y1="912" x2="1788" y2="963" stroke="#6a6a6a" stroke-width="3.6" stroke-linecap="round"/>
<polyline points="1766,931 1787,966 1792,912" fill="none" stroke="#6a6a6a" stroke-width="5" stroke-linejoin="round" stroke-linecap="round"/>
<line x1="1585" y1="198" x2="1647" y2="151" stroke="#e31e25" stroke-width="5.5" stroke-linecap="butt"/>
<line x1="1647" y1="151" x2="1811" y2="173" stroke="#e31e25" stroke-width="5.5" stroke-linecap="butt"/>
<line x1="1860" y1="212" x2="1860" y2="974" stroke="#e31e25" stroke-width="5.5" stroke-linecap="butt"/>
<line x1="1620" y1="257" x2="1620" y2="417" stroke="#e31e25" stroke-width="5.5" stroke-linecap="butt"/>
<line x1="1723" y1="438" x2="1723" y2="597" stroke="#e31e25" stroke-width="5.5" stroke-linecap="butt"/>
<line x1="1617" y1="584" x2="1674" y2="533" stroke="#e31e25" stroke-width="5.5" stroke-linecap="butt"/>
<line x1="1614" y1="593" x2="1614" y2="751" stroke="#e31e25" stroke-width="5.5" stroke-linecap="butt"/>
<line x1="1597" y1="751" x2="1740" y2="768" stroke="#e31e25" stroke-width="5.5" stroke-linecap="butt"/>
<line x1="1728" y1="776" x2="1728" y2="934" stroke="#e31e25" stroke-width="5.5" stroke-linecap="butt"/>
<line x1="1651" y1="936" x2="1651" y2="1002" stroke="#e31e25" stroke-width="5.5" stroke-linecap="butt"/>
<line x1="1586" y1="198" x2="1586" y2="243" stroke="#111" stroke-width="1.6" stroke-linecap="butt"/>
<line x1="1648" y1="151" x2="1648" y2="190" stroke="#111" stroke-width="1.6" stroke-linecap="butt"/>
<line x1="1811" y1="173" x2="1811" y2="209" stroke="#111" stroke-width="1.6" stroke-linecap="butt"/>
<line x1="1811" y1="209" x2="1860" y2="212" stroke="#111" stroke-width="1.6" stroke-linecap="butt"/>
<line x1="1609" y1="997" x2="1651" y2="1002" stroke="#111" stroke-width="1.6" stroke-linecap="butt"/>
<line x1="1790" y1="966" x2="1860" y2="974" stroke="#111" stroke-width="1.6" stroke-linecap="butt"/>
<g transform="translate(1562.3,211.7) rotate(-37.00)"><text x="0" y="0" font-size="44.7" font-weight="bold" textLength="47.8" lengthAdjust="spacingAndGlyphs">35</text><text x="49.7" y="0" font-size="44.7" textLength="66.2" lengthAdjust="spacingAndGlyphs" stroke="#fff" stroke-width="0.7">cm</text></g>
<g transform="translate(1677.0,151.0) rotate(5.91)"><text x="0" y="0" font-size="44.7" font-weight="bold" textLength="48.1" lengthAdjust="spacingAndGlyphs">35</text><text x="50.0" y="0" font-size="44.7" textLength="66.6" lengthAdjust="spacingAndGlyphs" stroke="#fff" stroke-width="0.7">cm</text></g>
<g transform="translate(1868.0,556.0) rotate(90.00)"><text x="0" y="0" font-size="44.7" font-weight="bold" textLength="70.2" lengthAdjust="spacingAndGlyphs">164</text><text x="72.2" y="0" font-size="44.7" textLength="64.9" lengthAdjust="spacingAndGlyphs" stroke="#fff" stroke-width="0.7">cm</text></g>
<g transform="translate(1629.0,280.0) rotate(90.00)"><text x="0" y="0" font-size="44.7" font-weight="bold" textLength="47.8" lengthAdjust="spacingAndGlyphs">35</text><text x="49.7" y="0" font-size="44.7" textLength="66.2" lengthAdjust="spacingAndGlyphs" stroke="#fff" stroke-width="0.7">cm</text></g>
<g transform="translate(1716.0,563.0) rotate(-90.00)"><text x="0" y="0" font-size="44.7" font-weight="bold" textLength="47.4" lengthAdjust="spacingAndGlyphs">35</text><text x="49.3" y="0" font-size="44.7" textLength="65.7" lengthAdjust="spacingAndGlyphs" stroke="#fff" stroke-width="0.7">cm</text></g>
<g transform="translate(1595.6,597.7) rotate(-42.00)"><text x="0" y="0" font-size="44.7" font-weight="bold" textLength="47.8" lengthAdjust="spacingAndGlyphs">34</text><text x="49.7" y="0" font-size="44.7" textLength="66.2" lengthAdjust="spacingAndGlyphs" stroke="#fff" stroke-width="0.7">cm</text></g>
<g transform="translate(1621.0,593.0) rotate(90.00)"><text x="0" y="0" font-size="44.7" font-weight="bold" textLength="47.8" lengthAdjust="spacingAndGlyphs">35</text><text x="49.7" y="0" font-size="44.7" textLength="66.2" lengthAdjust="spacingAndGlyphs" stroke="#fff" stroke-width="0.7">cm</text></g>
<g transform="translate(1624.0,750.0) rotate(4.97)"><text x="0" y="0" font-size="44.7" font-weight="bold" textLength="47.6" lengthAdjust="spacingAndGlyphs">31</text><text x="49.5" y="0" font-size="44.7" textLength="65.9" lengthAdjust="spacingAndGlyphs" stroke="#fff" stroke-width="0.7">cm</text></g>
<g transform="translate(1720.0,904.0) rotate(-90.00)"><text x="0" y="0" font-size="44.7" font-weight="bold" textLength="47.8" lengthAdjust="spacingAndGlyphs">35</text><text x="49.7" y="0" font-size="44.7" textLength="66.2" lengthAdjust="spacingAndGlyphs" stroke="#fff" stroke-width="0.7">cm</text></g>
<g transform="translate(1658.0,909.0) rotate(90.00)"><text x="0" y="0" font-size="44.7" font-weight="bold" textLength="45.8" lengthAdjust="spacingAndGlyphs">15</text><text x="47.7" y="0" font-size="44.7" textLength="63.4" lengthAdjust="spacingAndGlyphs" stroke="#fff" stroke-width="0.7">cm</text></g>
<polygon points="123,1144 161,1111 187,1116 193,1108 232,1112 232,1120 537,1158 543,1153 579,1158 581,1165 612,1168 611,1296 574,1331 540,1327 190,1285 153,1279 123,1276 123,1266 143,1244 153,1245 153,1157 123,1155" fill="#000" fill-opacity="0.32" filter="url(#sh)" transform="translate(6,7)"/>
<polygon points="123,1144 161,1111 187,1116 193,1108 232,1112 232,1120 537,1158 543,1153 579,1158 581,1165 612,1168 611,1296 574,1331 540,1327 190,1285 153,1279 123,1276 123,1266 143,1244 153,1245 153,1157 123,1155" fill="#fff"/>
<polyline points="123,1144 161,1111 187,1116 193,1108 232,1112 232,1120 537,1158 543,1153 579,1158 581,1165 612,1168 611,1296 574,1331 540,1327" fill="none" stroke="#6a6a6a" stroke-width="5.5" stroke-linejoin="round" stroke-linecap="round"/>
<polyline points="123,1144 123,1155 153,1157" fill="none" stroke="#6a6a6a" stroke-width="5.5" stroke-linejoin="round" stroke-linecap="round"/>
<line x1="153" y1="1145" x2="193" y2="1110" stroke="#6a6a6a" stroke-width="4" stroke-linecap="round"/>
<line x1="154" y1="1146" x2="190" y2="1151" stroke="#666" stroke-width="1.4" stroke-linecap="round"/>
<line x1="156" y1="1153" x2="190" y2="1156" stroke="#666" stroke-width="1.4" stroke-linecap="round"/>
<line x1="190" y1="1154" x2="230" y2="1119" stroke="#6a6a6a" stroke-width="4" stroke-linecap="round"/>
<line x1="190" y1="1151" x2="229" y2="1115" stroke="#666" stroke-width="1.4" stroke-linecap="round"/>
<line x1="153" y1="1145" x2="153" y2="1278" stroke="#6a6a6a" stroke-width="5" stroke-linecap="round"/>
<line x1="190" y1="1151" x2="190" y2="1285" stroke="#6a6a6a" stroke-width="5" stroke-linecap="round"/>
<polygon points="164,1157 176,1158 176,1185 164,1184" fill="none" stroke="#666" stroke-width="1.3" stroke-linejoin="round" stroke-linecap="round"/>
<polygon points="166,1145 180,1133 190,1135 176,1147" fill="none" stroke="#666" stroke-width="1.3" stroke-linejoin="round" stroke-linecap="round"/>
<polyline points="184,1160 184,1280" fill="none" stroke="#555" stroke-width="1.5" stroke-linejoin="round" stroke-linecap="round" stroke-dasharray="6,4"/>
<polyline points="219,1130 219,1280" fill="none" stroke="#555" stroke-width="1.5" stroke-linejoin="round" stroke-linecap="round" stroke-dasharray="6,4"/>
<polyline points="226,1132 226,1280" fill="none" stroke="#555" stroke-width="1.5" stroke-linejoin="round" stroke-linecap="round" stroke-dasharray="6,4"/>
<line x1="190" y1="1156" x2="503" y2="1193" stroke="#6a6a6a" stroke-width="4" stroke-linecap="round"/>
<line x1="193" y1="1153" x2="503" y2="1189" stroke="#666" stroke-width="1.4" stroke-linecap="round"/>
<polyline points="124,1264 143,1244" fill="none" stroke="#6a6a6a" stroke-width="5.5" stroke-linejoin="round" stroke-linecap="round"/>
<polyline points="123,1266 123,1276 153,1279" fill="none" stroke="#6a6a6a" stroke-width="5.5" stroke-linejoin="round" stroke-linecap="round"/>
<line x1="503" y1="1189" x2="503" y2="1322" stroke="#6a6a6a" stroke-width="5" stroke-linecap="round"/>
<line x1="540" y1="1197" x2="540" y2="1326" stroke="#6a6a6a" stroke-width="5" stroke-linecap="round"/>
<line x1="546" y1="1200" x2="546" y2="1326" stroke="#666" stroke-width="1.4" stroke-linecap="round"/>
<line x1="611" y1="1168" x2="611" y2="1296" stroke="#6a6a6a" stroke-width="5" stroke-linecap="round"/>
<line x1="503" y1="1189" x2="543" y2="1154" stroke="#6a6a6a" stroke-width="5" stroke-linecap="round"/>
<line x1="540" y1="1197" x2="576" y2="1162" stroke="#666" stroke-width="1.4" stroke-linecap="round"/>
<line x1="543" y1="1199" x2="579" y2="1165" stroke="#666" stroke-width="1.4" stroke-linecap="round"/>
<line x1="607" y1="1173" x2="574" y2="1211" stroke="#666" stroke-width="1.4" stroke-linecap="round"/>
<line x1="600" y1="1180" x2="572" y2="1205" stroke="#666" stroke-width="1.4" stroke-linecap="round"/>
<line x1="546" y1="1206" x2="574" y2="1211" stroke="#666" stroke-width="1.4" stroke-linecap="round"/>
<line x1="546" y1="1203" x2="574" y2="1208" stroke="#666" stroke-width="1.4" stroke-linecap="round"/>
<line x1="143" y1="1244" x2="190" y2="1250" stroke="#666" stroke-width="1.4" stroke-linecap="round"/>
<line x1="190" y1="1250" x2="505" y2="1279" stroke="#666" stroke-width="1.4" stroke-linecap="round"/>
<line x1="153" y1="1279" x2="501" y2="1322" stroke="#6a6a6a" stroke-width="5" stroke-linecap="round"/>
<line x1="540" y1="1320" x2="572" y2="1326" stroke="#6a6a6a" stroke-width="3" stroke-linecap="round"/>
<line x1="572" y1="1326" x2="607" y2="1296" stroke="#666" stroke-width="1.4" stroke-linecap="round"/>
<polygon points="516,1202 526,1203 526,1229 517,1228" fill="none" stroke="#666" stroke-width="1.3" stroke-linejoin="round" stroke-linecap="round"/>
<polyline points="513,1200 513,1320" fill="none" stroke="#555" stroke-width="1.5" stroke-linejoin="round" stroke-linecap="round" stroke-dasharray="6,4"/>
<polyline points="508,1312 540,1288" fill="none" stroke="#555" stroke-width="1.5" stroke-linejoin="round" stroke-linecap="round" stroke-dasharray="6,4"/>
<polyline points="505,1279 540,1284" fill="none" stroke="#555" stroke-width="1.5" stroke-linejoin="round" stroke-linecap="round" stroke-dasharray="6,4"/>
<line x1="123" y1="1114" x2="160" y2="1084" stroke="#e31e25" stroke-width="5.5" stroke-linecap="butt"/>
<line x1="160" y1="1084" x2="612" y2="1134" stroke="#e31e25" stroke-width="5.5" stroke-linecap="butt"/>
<line x1="141" y1="1249" x2="201" y2="1257" stroke="#e31e25" stroke-width="5.5" stroke-linecap="butt"/>
<line x1="234" y1="1277" x2="261" y2="1249" stroke="#e31e25" stroke-width="5.5" stroke-linecap="butt"/>
<line x1="192" y1="1273" x2="501" y2="1314" stroke="#e31e25" stroke-width="5.5" stroke-linecap="butt"/>
<line x1="486" y1="1200" x2="486" y2="1310" stroke="#e31e25" stroke-width="5.5" stroke-linecap="butt"/>
<line x1="548" y1="1283" x2="607" y2="1292" stroke="#e31e25" stroke-width="5.5" stroke-linecap="butt"/>
<line x1="642" y1="1166" x2="642" y2="1301" stroke="#e31e25" stroke-width="5.5" stroke-linecap="butt"/>
<line x1="160" y1="1084" x2="160" y2="1109" stroke="#111" stroke-width="1.6" stroke-linecap="butt"/>
<line x1="123" y1="1114" x2="123" y2="1144" stroke="#111" stroke-width="1.6" stroke-linecap="butt"/>
<line x1="612" y1="1134" x2="612" y2="1168" stroke="#111" stroke-width="1.6" stroke-linecap="butt"/>
<line x1="581" y1="1158" x2="642" y2="1166" stroke="#111" stroke-width="1.6" stroke-linecap="butt"/>
<line x1="612" y1="1297" x2="642" y2="1301" stroke="#111" stroke-width="1.6" stroke-linecap="butt"/>
<g transform="translate(113.3,1109.7) rotate(-37.00)"><text x="0" y="0" font-size="44.7" font-weight="bold" textLength="47.8" lengthAdjust="spacingAndGlyphs">24</text><text x="49.7" y="0" font-size="44.7" textLength="66.2" lengthAdjust="spacingAndGlyphs" stroke="#fff" stroke-width="0.7">cm</text></g>
<g transform="translate(340.0,1100.0) rotate(5.96)"><text x="0" y="0" font-size="44.7" font-weight="bold" textLength="69.1" lengthAdjust="spacingAndGlyphs">100</text><text x="71.0" y="0" font-size="44.7" textLength="63.8" lengthAdjust="spacingAndGlyphs" stroke="#fff" stroke-width="0.7">cm</text></g>
<g transform="translate(102.0,1238.0) rotate(5.19)"><text x="0" y="0" font-size="44.7" font-weight="bold" textLength="45.5" lengthAdjust="spacingAndGlyphs">13</text><text x="47.5" y="0" font-size="44.7" textLength="63.1" lengthAdjust="spacingAndGlyphs" stroke="#fff" stroke-width="0.7">cm</text></g>
<g transform="translate(236.3,1272.3) rotate(-45.00)"><text x="0" y="0" font-size="44.7" font-weight="bold" textLength="47.8" lengthAdjust="spacingAndGlyphs">20</text><text x="49.7" y="0" font-size="44.7" textLength="66.2" lengthAdjust="spacingAndGlyphs" stroke="#fff" stroke-width="0.7">cm</text></g>
<g transform="translate(296.0,1279.0) rotate(6.62)"><text x="0" y="0" font-size="44.7" font-weight="bold" textLength="46.5" lengthAdjust="spacingAndGlyphs">70</text><text x="48.4" y="0" font-size="44.7" textLength="64.4" lengthAdjust="spacingAndGlyphs" stroke="#fff" stroke-width="0.7">cm</text></g>
<g transform="translate(478.0,1298.0) rotate(-90.00)"><text x="0" y="0" font-size="44.7" font-weight="bold" textLength="47.4" lengthAdjust="spacingAndGlyphs">24</text><text x="49.3" y="0" font-size="44.7" textLength="65.7" lengthAdjust="spacingAndGlyphs" stroke="#fff" stroke-width="0.7">cm</text></g>
<g transform="translate(526.0,1272.0) rotate(7.39)"><text x="0" y="0" font-size="44.7" font-weight="bold" textLength="44.9" lengthAdjust="spacingAndGlyphs">13</text><text x="46.8" y="0" font-size="44.7" textLength="62.2" lengthAdjust="spacingAndGlyphs" stroke="#fff" stroke-width="0.7">cm</text></g>
<g transform="translate(649.0,1182.0) rotate(90.00)"><text x="0" y="0" font-size="44.7" font-weight="bold" textLength="47.0" lengthAdjust="spacingAndGlyphs">30</text><text x="48.9" y="0" font-size="44.7" textLength="65.1" lengthAdjust="spacingAndGlyphs" stroke="#fff" stroke-width="0.7">cm</text></g>
<polygon points="725,1252 754,1254 799,1216 980,1240 981,1304 930,1344 930,1364 725,1344" fill="#000" fill-opacity="0.32" filter="url(#sh)" transform="translate(6,7)"/>
<polygon points="725,1252 754,1254 799,1216 980,1240 981,1304 930,1344 930,1364 725,1344" fill="#fff"/>
<polygon points="725,1252 754,1254 799,1216 980,1240 981,1304 930,1344 930,1364 725,1344" fill="none" stroke="#6a6a6a" stroke-width="5.5" stroke-linejoin="round" stroke-linecap="round"/>
<line x1="725" y1="1252" x2="928" y2="1279" stroke="#6a6a6a" stroke-width="3" stroke-linecap="round"/>
<line x1="928" y1="1279" x2="928" y2="1364" stroke="#6a6a6a" stroke-width="3" stroke-linecap="round"/>
<line x1="757" y1="1256" x2="928" y2="1279" stroke="#666" stroke-width="1.4" stroke-linecap="round"/>
<line x1="757" y1="1261" x2="926" y2="1284" stroke="#666" stroke-width="1.4" stroke-linecap="round"/>
<line x1="757" y1="1256" x2="800" y2="1220" stroke="#666" stroke-width="1.4" stroke-linecap="round"/>
<line x1="928" y1="1280" x2="975" y2="1242" stroke="#666" stroke-width="1.4" stroke-linecap="round"/>
<line x1="931" y1="1290" x2="975" y2="1252" stroke="#666" stroke-width="1.4" stroke-linecap="round"/>
<line x1="801" y1="1220" x2="801" y2="1256" stroke="#666" stroke-width="1.4" stroke-linecap="round"/>
<polygon points="786,1302.0 797,1302.8 797,1314.8 786,1314.0" fill="none" stroke="#666" stroke-width="1.2" stroke-linejoin="round" stroke-linecap="round"/>
<polygon points="856,1310.2 867,1311.0 867,1323.0 856,1322.2" fill="none" stroke="#666" stroke-width="1.2" stroke-linejoin="round" stroke-linecap="round"/>
<polygon points="793,1305.5 858,1312.3 858,1321.3 793,1314.5" fill="#fff" stroke="#666" stroke-width="1.3" stroke-linejoin="round" stroke-linecap="round"/>
<circle cx="791.5" cy="1308" r="2" fill="none" stroke="#777" stroke-width="1"/>
<circle cx="861.5" cy="1317" r="2" fill="none" stroke="#777" stroke-width="1"/>
<line x1="724" y1="1244" x2="800" y2="1180" stroke="#e31e25" stroke-width="5.5" stroke-linecap="butt"/>
<line x1="800" y1="1180" x2="968" y2="1202" stroke="#e31e25" stroke-width="5.5" stroke-linecap="butt"/>
<line x1="950" y1="1266" x2="950" y2="1330" stroke="#e31e25" stroke-width="5.5" stroke-linecap="butt"/>
<line x1="801" y1="1180" x2="801" y2="1220" stroke="#111" stroke-width="1.6" stroke-linecap="butt"/>
<line x1="725" y1="1244" x2="725" y2="1252" stroke="#111" stroke-width="1.6" stroke-linecap="butt"/>
<line x1="969" y1="1202" x2="969" y2="1240" stroke="#111" stroke-width="1.6" stroke-linecap="butt"/>
<g transform="translate(718.9,1244.5) rotate(-40.00)"><text x="0" y="0" font-size="44.7" font-weight="bold" textLength="47.8" lengthAdjust="spacingAndGlyphs">33</text><text x="49.7" y="0" font-size="44.7" textLength="66.2" lengthAdjust="spacingAndGlyphs" stroke="#fff" stroke-width="0.7">cm</text></g>
<g transform="translate(835.0,1181.0) rotate(6.01)"><text x="0" y="0" font-size="44.7" font-weight="bold" textLength="47.3" lengthAdjust="spacingAndGlyphs">37</text><text x="49.2" y="0" font-size="44.7" textLength="65.5" lengthAdjust="spacingAndGlyphs" stroke="#fff" stroke-width="0.7">cm</text></g>
<g transform="translate(957.0,1242.0) rotate(90.00)"><text x="0" y="0" font-size="44.7" font-weight="bold" textLength="45.3" lengthAdjust="spacingAndGlyphs">12</text><text x="47.3" y="0" font-size="44.7" textLength="62.8" lengthAdjust="spacingAndGlyphs" stroke="#fff" stroke-width="0.7">cm</text></g>
<polygon points="1059,1070 1130,1006 1160,1009 1165,1002 1204,1006 1206,1014 1701,1078 1707,1070 1747,1075 1748,1084 1779,1088 1779,1282 1706,1347 1632,1335 1059,1265" fill="#000" fill-opacity="0.32" filter="url(#sh)" transform="translate(6,7)"/>
<polygon points="1059,1070 1130,1006 1160,1009 1165,1002 1204,1006 1206,1014 1701,1078 1707,1070 1747,1075 1748,1084 1779,1088 1779,1282 1706,1347 1632,1335 1059,1265" fill="#fff"/>
<polygon points="1059,1070 1130,1006 1160,1009 1165,1002 1204,1006 1206,1014 1701,1078 1707,1070 1747,1075 1748,1084 1779,1088 1779,1282 1706,1347 1632,1335 1059,1265" fill="none" stroke="#6a6a6a" stroke-width="5.5" stroke-linejoin="round" stroke-linecap="round"/>
<line x1="1066" y1="1074" x2="1278" y2="1098" stroke="#6a6a6a" stroke-width="3" stroke-linecap="round"/>
<polyline points="1132,1084 1280,1101" fill="none" stroke="#555" stroke-width="1.5" stroke-linejoin="round" stroke-linecap="round" stroke-dasharray="6,4"/>
<line x1="1278" y1="1098" x2="1630" y2="1139" stroke="#6a6a6a" stroke-width="3" stroke-linecap="round"/>
<line x1="1089" y1="1070" x2="1158" y2="1010" stroke="#6a6a6a" stroke-width="3.5" stroke-linecap="round"/>
<line x1="1130" y1="1074" x2="1200" y2="1014" stroke="#666" stroke-width="1.4" stroke-linecap="round"/>
<line x1="1134" y1="1080" x2="1204" y2="1018" stroke="#6a6a6a" stroke-width="3.5" stroke-linecap="round"/>
<line x1="1630" y1="1139" x2="1699" y2="1080" stroke="#6a6a6a" stroke-width="4" stroke-linecap="round"/>
<line x1="1633" y1="1141" x2="1705" y2="1076" stroke="#666" stroke-width="1.4" stroke-linecap="round"/>
<line x1="1672" y1="1148" x2="1742" y2="1087" stroke="#6a6a6a" stroke-width="4" stroke-linecap="round"/>
<line x1="1670" y1="1145" x2="1740" y2="1082" stroke="#666" stroke-width="1.4" stroke-linecap="round"/>
<line x1="1676" y1="1147" x2="1709" y2="1150" stroke="#6a6a6a" stroke-width="4" stroke-linecap="round"/>
<line x1="1709" y1="1151" x2="1776" y2="1092" stroke="#666" stroke-width="1.4" stroke-linecap="round"/>
<line x1="1710" y1="1157" x2="1776" y2="1098" stroke="#666" stroke-width="1.4" stroke-linecap="round"/>
<line x1="1089" y1="1070" x2="1090" y2="1272" stroke="#6a6a6a" stroke-width="3" stroke-linecap="round"/>
<line x1="1129" y1="1074" x2="1129" y2="1276" stroke="#6a6a6a" stroke-width="4" stroke-linecap="round"/>
<line x1="1275" y1="1098" x2="1275" y2="1290" stroke="#6a6a6a" stroke-width="3" stroke-linecap="round"/>
<polyline points="1282,1101 1282,1290" fill="none" stroke="#555" stroke-width="1.5" stroke-linejoin="round" stroke-linecap="round" stroke-dasharray="6,4"/>
<polyline points="1350,1042 1350,1246" fill="none" stroke="#555" stroke-width="1.5" stroke-linejoin="round" stroke-linecap="round" stroke-dasharray="6,4"/>
<line x1="1490" y1="1123" x2="1491" y2="1316" stroke="#6a6a6a" stroke-width="3" stroke-linecap="round"/>
<polyline points="1497,1123 1497,1316" fill="none" stroke="#555" stroke-width="1.5" stroke-linejoin="round" stroke-linecap="round" stroke-dasharray="6,4"/>
<polyline points="1566,1069 1566,1180" fill="none" stroke="#555" stroke-width="1.5" stroke-linejoin="round" stroke-linecap="round" stroke-dasharray="6,4"/>
<line x1="1630" y1="1139" x2="1630" y2="1335" stroke="#6a6a6a" stroke-width="4" stroke-linecap="round"/>
<line x1="1671" y1="1142" x2="1671" y2="1339" stroke="#6a6a6a" stroke-width="3" stroke-linecap="round"/>
<line x1="1708" y1="1151" x2="1708" y2="1345" stroke="#6a6a6a" stroke-width="3" stroke-linecap="round"/>
<line x1="1776" y1="1092" x2="1776" y2="1285" stroke="#666" stroke-width="1.4" stroke-linecap="round"/>
<polyline points="1286,1094 1350,1042" fill="none" stroke="#555" stroke-width="1.5" stroke-linejoin="round" stroke-linecap="round" stroke-dasharray="6,4"/>
<polyline points="1292,1098 1356,1046" fill="none" stroke="#555" stroke-width="1.5" stroke-linejoin="round" stroke-linecap="round" stroke-dasharray="6,4"/>
<polyline points="1500,1123 1563,1069" fill="none" stroke="#555" stroke-width="1.5" stroke-linejoin="round" stroke-linecap="round" stroke-dasharray="6,4"/>
<line x1="1335" y1="1201" x2="1489" y2="1220" stroke="#6a6a6a" stroke-width="3" stroke-linecap="round"/>
<line x1="1400" y1="1210" x2="1486" y2="1220" stroke="#6a6a6a" stroke-width="3" stroke-linecap="round"/>
<polyline points="1062,1255 1278,1282" fill="none" stroke="#555" stroke-width="1.5" stroke-linejoin="round" stroke-linecap="round" stroke-dasharray="6,4"/>
<polyline points="1286,1222 1490,1248" fill="none" stroke="#555" stroke-width="1.5" stroke-linejoin="round" stroke-linecap="round" stroke-dasharray="6,4"/>
<polyline points="1497,1247 1775,1283" fill="none" stroke="#555" stroke-width="1.5" stroke-linejoin="round" stroke-linecap="round" stroke-dasharray="6,4"/>
<polyline points="1130,1196 1275,1211" fill="none" stroke="#555" stroke-width="1.5" stroke-linejoin="round" stroke-linecap="round" stroke-dasharray="6,4"/>
<polyline points="1062,1253 1128,1199" fill="none" stroke="#555" stroke-width="1.5" stroke-linejoin="round" stroke-linecap="round" stroke-dasharray="6,4"/>
<polyline points="1500,1306 1708,1335" fill="none" stroke="#555" stroke-width="1.5" stroke-linejoin="round" stroke-linecap="round" stroke-dasharray="6,4"/>
<polyline points="1282,1285 1490,1310" fill="none" stroke="#555" stroke-width="1.5" stroke-linejoin="round" stroke-linecap="round" stroke-dasharray="6,4"/>
<polygon points="1158,1127.0 1169,1128.2 1169,1140.2 1158,1139.0" fill="none" stroke="#666" stroke-width="1.2" stroke-linejoin="round" stroke-linecap="round"/>
<polygon points="1235,1138.8 1246,1140.0 1246,1152.0 1235,1150.8" fill="none" stroke="#666" stroke-width="1.2" stroke-linejoin="round" stroke-linecap="round"/>
<polygon points="1165,1130.8 1237,1141.0 1237,1150.0 1165,1139.8" fill="#fff" stroke="#666" stroke-width="1.3" stroke-linejoin="round" stroke-linecap="round"/>
<circle cx="1163.5" cy="1133" r="2" fill="none" stroke="#777" stroke-width="1"/>
<circle cx="1240.5" cy="1146" r="2" fill="none" stroke="#777" stroke-width="1"/>
<polygon points="1339,1147.0 1350,1148.2 1350,1160.2 1339,1159.0" fill="none" stroke="#666" stroke-width="1.2" stroke-linejoin="round" stroke-linecap="round"/>
<polygon points="1416,1158.8 1427,1160.0 1427,1172.0 1416,1170.8" fill="none" stroke="#666" stroke-width="1.2" stroke-linejoin="round" stroke-linecap="round"/>
<polygon points="1346,1150.8 1418,1161.0 1418,1170.0 1346,1159.8" fill="#fff" stroke="#666" stroke-width="1.3" stroke-linejoin="round" stroke-linecap="round"/>
<circle cx="1344.5" cy="1153" r="2" fill="none" stroke="#777" stroke-width="1"/>
<circle cx="1421.5" cy="1166" r="2" fill="none" stroke="#777" stroke-width="1"/>
<polygon points="1339,1246.0 1350,1247.2 1350,1259.2 1339,1258.0" fill="none" stroke="#666" stroke-width="1.2" stroke-linejoin="round" stroke-linecap="round"/>
<polygon points="1416,1257.8 1427,1259.0 1427,1271.0 1416,1269.8" fill="none" stroke="#666" stroke-width="1.2" stroke-linejoin="round" stroke-linecap="round"/>
<polygon points="1346,1249.8 1418,1260.0 1418,1269.0 1346,1258.8" fill="#fff" stroke="#666" stroke-width="1.3" stroke-linejoin="round" stroke-linecap="round"/>
<circle cx="1344.5" cy="1252" r="2" fill="none" stroke="#777" stroke-width="1"/>
<circle cx="1421.5" cy="1265" r="2" fill="none" stroke="#777" stroke-width="1"/>
<polygon points="1519,1171.0 1530,1172.2 1530,1184.2 1519,1183.0" fill="none" stroke="#666" stroke-width="1.2" stroke-linejoin="round" stroke-linecap="round"/>
<polygon points="1596,1182.8 1607,1184.0 1607,1196.0 1596,1194.8" fill="none" stroke="#666" stroke-width="1.2" stroke-linejoin="round" stroke-linecap="round"/>
<polygon points="1526,1174.8 1598,1185.0 1598,1194.0 1526,1183.8" fill="#fff" stroke="#666" stroke-width="1.3" stroke-linejoin="round" stroke-linecap="round"/>
<circle cx="1524.5" cy="1177" r="2" fill="none" stroke="#777" stroke-width="1"/>
<circle cx="1601.5" cy="1190" r="2" fill="none" stroke="#777" stroke-width="1"/>
<polygon points="1103,1069 1115,1070 1115,1112 1103,1111" fill="none" stroke="#666" stroke-width="1.3" stroke-linejoin="round" stroke-linecap="round"/>
<polygon points="1103,1069 1115,1060 1127,1061 1115,1070" fill="none" stroke="#666" stroke-width="1.2" stroke-linejoin="round" stroke-linecap="round"/>
<polygon points="1644,1141 1656,1142 1656,1180 1644,1179" fill="none" stroke="#666" stroke-width="1.3" stroke-linejoin="round" stroke-linecap="round"/>
<polygon points="1644,1141 1657,1126 1669,1127 1656,1142" fill="none" stroke="#666" stroke-width="1.2" stroke-linejoin="round" stroke-linecap="round"/>
<line x1="1105.24" y1="1271" x2="1103.5" y2="1333" stroke="#6a6a6a" stroke-width="3.6" stroke-linecap="round"/>
<line x1="1117.0" y1="1274" x2="1105" y2="1336" stroke="#6a6a6a" stroke-width="3.6" stroke-linecap="round"/>
<polyline points="1096,1271 1104,1339 1138,1274" fill="none" stroke="#6a6a6a" stroke-width="5" stroke-linejoin="round" stroke-linecap="round"/>
<line x1="1404.58" y1="1308" x2="1409.5" y2="1350" stroke="#6a6a6a" stroke-width="3.6" stroke-linecap="round"/>
<line x1="1415.5" y1="1314" x2="1411" y2="1353" stroke="#6a6a6a" stroke-width="3.6" stroke-linecap="round"/>
<polyline points="1396,1308 1410,1356 1435,1314" fill="none" stroke="#6a6a6a" stroke-width="5" stroke-linejoin="round" stroke-linecap="round"/>
<line x1="1651.22" y1="1342" x2="1673.5" y2="1406" stroke="#6a6a6a" stroke-width="3.6" stroke-linecap="round"/>
<line x1="1665.5" y1="1345" x2="1675" y2="1409" stroke="#6a6a6a" stroke-width="3.6" stroke-linecap="round"/>
<polyline points="1640,1342 1674,1412 1691,1345" fill="none" stroke="#6a6a6a" stroke-width="5" stroke-linejoin="round" stroke-linecap="round"/>
<line x1="1724.84" y1="1332" x2="1735.5" y2="1353" stroke="#6a6a6a" stroke-width="3.6" stroke-linecap="round"/>
<line x1="1731.0" y1="1318" x2="1737" y2="1356" stroke="#6a6a6a" stroke-width="3.6" stroke-linecap="round"/>
<polyline points="1720,1332 1736,1359 1742,1318" fill="none" stroke="#6a6a6a" stroke-width="5" stroke-linejoin="round" stroke-linecap="round"/>
<line x1="1058" y1="1028" x2="1130" y2="968" stroke="#e31e25" stroke-width="5.5" stroke-linecap="butt"/>
<line x1="1130" y1="968" x2="1779" y2="1043" stroke="#e31e25" stroke-width="5.5" stroke-linecap="butt"/>
<line x1="1806" y1="1090" x2="1806" y2="1360" stroke="#e31e25" stroke-width="5.5" stroke-linecap="butt"/>
<line x1="1062" y1="1173" x2="1273" y2="1199" stroke="#e31e25" stroke-width="5.5" stroke-linecap="butt"/>
<line x1="1276" y1="1142" x2="1490" y2="1170" stroke="#e31e25" stroke-width="5.5" stroke-linecap="butt"/>
<line x1="1297" y1="1199" x2="1297" y2="1295" stroke="#e31e25" stroke-width="5.5" stroke-linecap="butt"/>
<line x1="1142" y1="1277" x2="1142" y2="1343" stroke="#e31e25" stroke-width="5.5" stroke-linecap="butt"/>
<line x1="1510" y1="1312" x2="1578" y2="1249" stroke="#e31e25" stroke-width="5.5" stroke-linecap="butt"/>
<line x1="1630" y1="1147" x2="1630" y2="1325" stroke="#e31e25" stroke-width="5.5" stroke-linecap="butt"/>
<line x1="1130" y1="968" x2="1130" y2="1006" stroke="#111" stroke-width="1.6" stroke-linecap="butt"/>
<line x1="1059" y1="1028" x2="1059" y2="1070" stroke="#111" stroke-width="1.6" stroke-linecap="butt"/>
<line x1="1779" y1="1043" x2="1779" y2="1087" stroke="#111" stroke-width="1.6" stroke-linecap="butt"/>
<line x1="1779" y1="1087" x2="1806" y2="1090" stroke="#111" stroke-width="1.6" stroke-linecap="butt"/>
<line x1="1105" y1="1340" x2="1142" y2="1343" stroke="#111" stroke-width="1.6" stroke-linecap="butt"/>
<line x1="1740" y1="1356" x2="1806" y2="1360" stroke="#111" stroke-width="1.6" stroke-linecap="butt"/>
<g transform="translate(1031.3,1042.7) rotate(-37.00)"><text x="0" y="0" font-size="44.7" font-weight="bold" textLength="47.8" lengthAdjust="spacingAndGlyphs">42</text><text x="49.7" y="0" font-size="44.7" textLength="66.2" lengthAdjust="spacingAndGlyphs" stroke="#fff" stroke-width="0.7">cm</text></g>
<g transform="translate(1385.0,995.0) rotate(4.93)"><text x="0" y="0" font-size="44.7" font-weight="bold" textLength="71.5" lengthAdjust="spacingAndGlyphs">135</text><text x="73.5" y="0" font-size="44.7" textLength="66.1" lengthAdjust="spacingAndGlyphs" stroke="#fff" stroke-width="0.7">cm</text></g>
<g transform="translate(1106.0,1177.0) rotate(4.97)"><text x="0" y="0" font-size="44.7" font-weight="bold" textLength="47.6" lengthAdjust="spacingAndGlyphs">44</text><text x="49.5" y="0" font-size="44.7" textLength="65.9" lengthAdjust="spacingAndGlyphs" stroke="#fff" stroke-width="0.7">cm</text></g>
<g transform="translate(1328.0,1146.0) rotate(5.96)"><text x="0" y="0" font-size="44.7" font-weight="bold" textLength="47.7" lengthAdjust="spacingAndGlyphs">44</text><text x="49.6" y="0" font-size="44.7" textLength="66.0" lengthAdjust="spacingAndGlyphs" stroke="#fff" stroke-width="0.7">cm</text></g>
<g transform="translate(1304.0,1190.0) rotate(90.00)"><text x="0" y="0" font-size="44.7" font-weight="bold" textLength="46.6" lengthAdjust="spacingAndGlyphs">19</text><text x="48.5" y="0" font-size="44.7" textLength="64.5" lengthAdjust="spacingAndGlyphs" stroke="#fff" stroke-width="0.7">cm</text></g>
<g transform="translate(1149.0,1246.0) rotate(90.00)"><text x="0" y="0" font-size="44.7" font-weight="bold" textLength="46.2" lengthAdjust="spacingAndGlyphs">15</text><text x="48.1" y="0" font-size="44.7" textLength="64.0" lengthAdjust="spacingAndGlyphs" stroke="#fff" stroke-width="0.7">cm</text></g>
<g transform="translate(1499.5,1313.3) rotate(-43.00)"><text x="0" y="0" font-size="44.7" font-weight="bold" textLength="47.8" lengthAdjust="spacingAndGlyphs">37</text><text x="49.7" y="0" font-size="44.7" textLength="66.2" lengthAdjust="spacingAndGlyphs" stroke="#fff" stroke-width="0.7">cm</text></g>
<g transform="translate(1638.0,1186.0) rotate(90.00)"><text x="0" y="0" font-size="44.7" font-weight="bold" textLength="47.4" lengthAdjust="spacingAndGlyphs">36</text><text x="49.3" y="0" font-size="44.7" textLength="65.7" lengthAdjust="spacingAndGlyphs" stroke="#fff" stroke-width="0.7">cm</text></g>
<g transform="translate(1810.0,1169.0) rotate(90.00)"><text x="0" y="0" font-size="44.7" font-weight="bold" textLength="47.0" lengthAdjust="spacingAndGlyphs">57</text><text x="48.9" y="0" font-size="44.7" textLength="65.1" lengthAdjust="spacingAndGlyphs" stroke="#fff" stroke-width="0.7">cm</text></g>
<line x1="983" y1="1303" x2="1466" y2="1282" stroke="#111" stroke-width="1.6" stroke-linecap="butt"/>
</svg></body></html>
